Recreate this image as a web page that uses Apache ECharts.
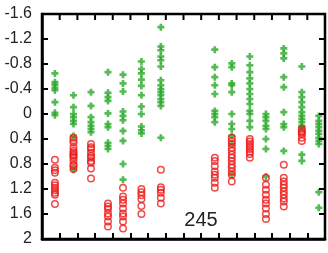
<!DOCTYPE html>
<html>
<head>
<meta charset="utf-8">
<script src="https://cdn.jsdelivr.net/npm/echarts@6/dist/echarts.min.js"></script>
<style>
  html, body { margin: 0; padding: 0; background: #fff; }
  #chart { width: 328px; height: 253px; }
</style>
</head>
<body>
<div id="chart"></div>
<script>
// column positions on the x axis (0..16)
var colX = [0.73, 1.78, 2.77, 3.73, 4.58, 5.62, 6.72, 9.77, 10.73, 11.75, 12.66, 13.67, 14.69, 15.65];

// green plus markers, one list per column
var greenCols = [
  [-0.65, -0.51, -0.47, -0.42, -0.38, -0.19, -0.02, 0.02],
  [-0.30, -0.11, 0.0, 0.05, 0.11, 0.16, 0.35, 0.89],
  [-0.35, -0.13, 0.05, 0.13, 0.19, 0.24, 0.29],
  [-0.67, -0.34, -0.27, -0.21, -0.01, 0.16, 0.21, 0.46, 0.51, 0.56],
  [-0.63, -0.49, -0.36, -0.04, 0.03, 0.10, 0.27, 0.43, 0.80, 1.05],
  [-0.84, -0.72, -0.65, -0.55, -0.45, -0.30, -0.12, 0.0, 0.20, 0.26, 0.31],
  [-1.39, -1.08, -1.02, -0.92, -0.86, -0.76, -0.54, -0.46, -0.40, -0.35, -0.30, -0.24, -0.19, -0.13, 0.38],
  [-1.03, -0.75, -0.59, -0.46, -0.32, -0.05, 0.0, 0.05, 0.13],
  [-0.81, -0.75, -0.49, -0.46, -0.35, 0.0, 0.16, 0.24, 0.35, 0.48, 0.97],
  [-0.92, -0.78, -0.67, -0.57, -0.49, -0.40, -0.32, -0.24, -0.16, -0.05, 0.0, 0.11, 0.21],
  [0.0, 0.05, 0.11, 0.19, 0.24, 0.40, 0.56, 1.0],
  [-1.05, -0.97, -0.89, -0.59, -0.43, -0.03, 0.16, 0.21, 0.59],
  [-0.76, -0.35, -0.27, -0.19, -0.11, -0.03, 0.03, 0.08, 0.13, 0.19, 0.21, 0.65, 0.75],
  [0.03, 0.11, 0.16, 0.21, 0.27, 0.32, 0.38, 0.43, 0.48, 1.25, 1.50]
];

// red open circles, one list per column
var redCols = [
  [0.73, 0.86, 0.90, 0.94, 1.10, 1.14, 1.18, 1.22, 1.26, 1.29, 1.44],
  [0.38, 0.42, 0.46, 0.54, 0.59, 0.62, 0.65, 0.67, 0.70, 0.75, 0.81, 0.83, 0.88],
  [0.48, 0.53, 0.56, 0.62, 0.67, 0.70, 0.75, 0.78, 0.87, 1.03],
  [1.43, 1.48, 1.52, 1.59, 1.64, 1.72, 1.80],
  [1.18, 1.32, 1.37, 1.43, 1.51, 1.59, 1.64, 1.72, 1.83],
  [1.20, 1.25, 1.30, 1.36, 1.47, 1.60],
  [0.89, 1.17, 1.21, 1.26, 1.34, 1.43],
  [0.70, 0.75, 0.83, 0.92, 0.97, 1.02, 1.10, 1.18],
  [0.38, 0.43, 0.48, 0.54, 0.59, 0.65, 0.70, 0.75, 0.81, 0.86, 0.92, 0.97, 1.08],
  [0.40, 0.44, 0.48, 0.52, 0.56, 0.60, 0.64, 0.70],
  [1.02, 1.13, 1.21, 1.29, 1.37, 1.43, 1.51, 1.60, 1.68],
  [0.81, 1.02, 1.08, 1.13, 1.18, 1.24, 1.29, 1.35, 1.40, 1.48],
  [0.24, 0.27, 0.30, 0.32, 0.38, 0.43],
  []
];

var yMin = -1.6, yMax = 2, yStep = 0.4;
var xMin = 0, xMax = 16, xStep = 1;
var label = "245";

// layout
var W = 328, H = 253;
var gL = 42, gR = 3, gT = 14, gB = 14;

function toPoints(cols){
  var pts = [];
  for(var i=0;i<cols.length;i++){
    for(var j=0;j<cols[i].length;j++){
      pts.push([colX[i], cols[i][j]]);
    }
  }
  return pts;
}

function tick(){ return {show:true, inside:true, length:6, lineStyle:{color:'#000', width:2}}; }
function line(){ return {show:true, onZero:false, lineStyle:{color:'#000', width:2.5}}; }

// frame on top and right: outline of the plot box plus inward ticks
var x0 = gL, x1 = W - gR, y0 = gT, y1 = H - gB;
var frame = [];
var ls = {stroke:'#000', lineWidth:2.5, fill:null};
var ts = {stroke:'#000', lineWidth:2};
frame.push({type:'rect', z:100, silent:true, shape:{x:x0, y:y0, width:x1 - x0, height:y1 - y0}, style:ls});
var nx = Math.round((xMax - xMin) / xStep), ny = Math.round((yMax - yMin) / yStep);
for(var i = 1; i < nx; i++){
  var tx = x0 + (x1 - x0) * i / nx;
  frame.push({type:'line', z:100, silent:true, shape:{x1:tx, y1:y0, x2:tx, y2:y0 + 6}, style:ts});
}
for(var k = 1; k < ny; k++){
  var ty = y0 + (y1 - y0) * k / ny;
  frame.push({type:'line', z:100, silent:true, shape:{x1:x1, y1:ty, x2:x1 - 6, y2:ty}, style:ts});
}
frame.push({
  type:'text', x:201, y:220, z:100,
  style:{text:label, font:'20px Liberation Sans', fill:'#222', align:'center', verticalAlign:'middle'}
});

var myChart = echarts.init(document.getElementById('chart'));
var option = {
  animation:false,
  backgroundColor:'#fff',
  grid:{left:gL, right:gR, top:gT, bottom:gB},
  xAxis:{type:'value', min:xMin, max:xMax, interval:xStep,
    axisLine:line(), axisTick:tick(), axisLabel:{show:false}, splitLine:{show:false}},
  yAxis:{type:'value', inverse:true, min:yMin, max:yMax, interval:yStep,
    axisLine:line(), axisTick:tick(),
    axisLabel:{margin:10, color:'#222', fontSize:16, fontFamily:'Liberation Sans'},
    splitLine:{show:false}},
  graphic:frame,
  series:[
    {
      name:'green', type:'scatter',
      symbol:'path://M2.5,0h3v2.5h2.5v3h-2.5v2.5h-3v-2.5h-2.5v-3h2.5z', symbolSize:7,
      itemStyle:{color:'#2aa82a'},
      data:toPoints(greenCols)
    },
    {
      name:'red', type:'scatter',
      symbol:'circle', symbolSize:6.5,
      itemStyle:{color:'rgba(255,255,255,0)', borderColor:'#ee1c1c', borderWidth:1.5},
      data:toPoints(redCols)
    }
  ]
};
myChart.setOption(option);
</script>
</body>
</html>
